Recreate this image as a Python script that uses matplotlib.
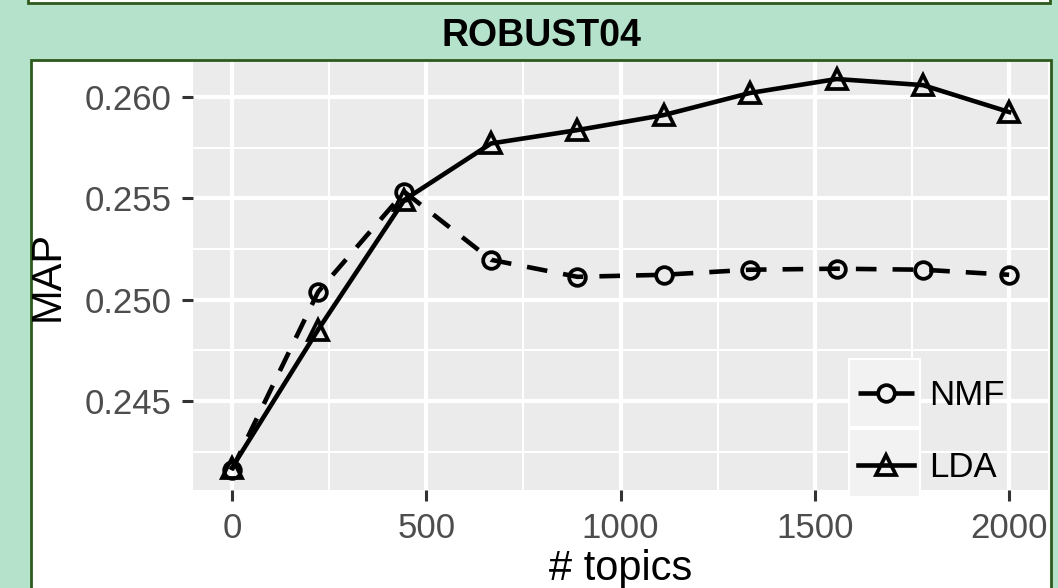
import matplotlib
matplotlib.use("Agg")
import matplotlib.pyplot as plt
from matplotlib.patches import Rectangle
from matplotlib.ticker import MultipleLocator, FormatStrFormatter

plt.rcParams['font.family'] = ['Liberation Sans', 'DejaVu Sans']

# data
topics = [0, 222, 444, 667, 889, 1111, 1333, 1556, 1778, 2000]
nmf_map = [0.2416, 0.25039, 0.25532, 0.25197, 0.25113, 0.25123, 0.25148, 0.25153, 0.25148, 0.25123]
lda_map = [0.2417, 0.24852, 0.25493, 0.25771, 0.25837, 0.25911, 0.26020, 0.26089, 0.26059, 0.25926]
series_names = ["NMF", "LDA"]

mint = "#b5e2cb"
edge_green = "#2e5a1e"
panel_grey = "#ebebeb"

W, H = 1058, 588
fig = plt.figure(figsize=(W / 100, H / 100), dpi=100)
fig.patch.set_facecolor(mint)

# boxes (top one is the bottom edge of a box above, main one holds the plot)
fig.patches.append(Rectangle((28 / W, 1 - 3 / H), 1022 / W, 10 / H, transform=fig.transFigure,
                             facecolor="white", edgecolor=edge_green, linewidth=2, zorder=-5))
fig.patches.append(Rectangle((31 / W, -10 / H), 1020 / W, (H - 60 + 10) / H, transform=fig.transFigure,
                             facecolor="white", edgecolor=edge_green, linewidth=2, zorder=-5))

fig.text(541 / W, 1 - 36 / H, "ROBUST04", ha="center", va="center",
         fontsize=27, fontweight="bold", color="black")

ax = fig.add_axes([193 / W, 1 - 490 / H, 855 / W, 428 / H])
ax.set_facecolor(panel_grey)
for s in ax.spines.values():
    s.set_visible(False)

ax.plot(topics, nmf_map, color="black", linewidth=3.3, dashes=(4.5, 3.5),
        marker="o", markersize=12, markerfacecolor="none", markeredgewidth=2.7,
        label=series_names[0], zorder=4)
ax.plot(topics, lda_map, color="black", linewidth=3.3,
        marker="^", markersize=14, markerfacecolor="none", markeredgewidth=2.7,
        label=series_names[1], zorder=4)

ax.set_xlim(-100, 2100)
ax.set_ylim(0.24061, 0.26173)
ax.xaxis.set_major_locator(MultipleLocator(500))
ax.xaxis.set_minor_locator(MultipleLocator(250))
ax.yaxis.set_major_locator(MultipleLocator(0.005))
ax.yaxis.set_minor_locator(MultipleLocator(0.0025))
ax.yaxis.set_major_formatter(FormatStrFormatter("%.3f"))

ax.grid(which="major", color="white", linewidth=3.0)
ax.grid(which="minor", color="white", linewidth=1.5)
ax.set_axisbelow(True)

ax.tick_params(which="major", length=8, width=2.2, color="#333333",
               labelsize=25, labelcolor="#4d4d4d", pad=7.5)
ax.tick_params(which="minor", length=0)

ax.set_xlabel("# topics", fontsize=30, color="black", labelpad=3)
ax.set_ylabel("MAP", fontsize=30, color="black", labelpad=12)

# legend key backgrounds
for y0 in (0.147, -0.016):
    ax.add_patch(Rectangle((0.767, y0), 0.083, 0.159, transform=ax.transAxes,
                           facecolor="#f2f2f2", edgecolor="white", linewidth=1.5,
                           zorder=2, clip_on=False))

leg = ax.legend(loc="lower left", bbox_to_anchor=(0.766, -0.011), frameon=False,
                fontsize=25, handlelength=1.6, handletextpad=0.45, labelspacing=1.14,
                borderpad=0.3, borderaxespad=0)
leg.set_zorder(5)

fig.savefig("out.png", dpi=100, facecolor=mint)
